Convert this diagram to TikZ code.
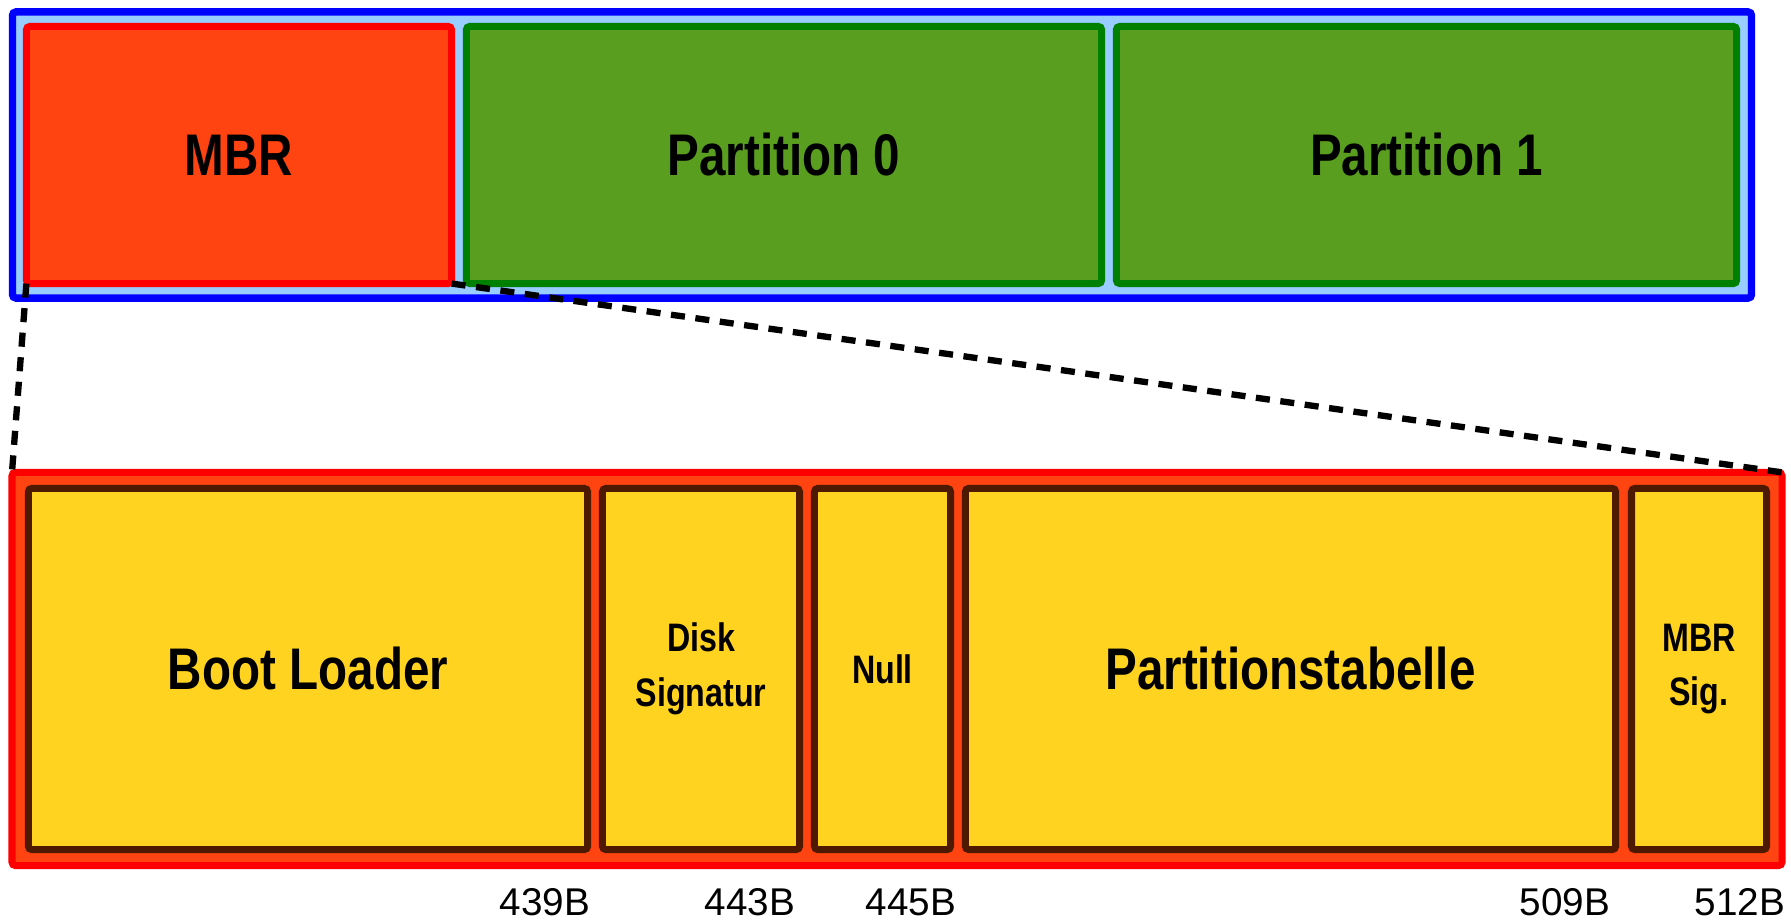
\documentclass[tikz,border=0pt]{standalone}
\usepackage{fontspec}
\setmainfont{Liberation Sans}
\newfontfamily\narrowfont[FakeStretch=0.81]{Liberation Sans}
\usepackage{xcolor}
\usepackage{tikz}
\usetikzlibrary{calc}

\definecolor{diskblue}{RGB}{0,0,255}
\definecolor{disklight}{RGB}{153,204,255}
\definecolor{mbrred}{RGB}{255,0,0}
\definecolor{mbrfill}{RGB}{255,68,17}
\definecolor{partline}{RGB}{0,128,0}
\definecolor{partfill}{RGB}{89,158,31}
\definecolor{fieldline}{RGB}{77,25,0}
\definecolor{fieldfill}{RGB}{255,211,32}

\tikzset{
	block/.style={rectangle, rounded corners=1pt, line width=2pt, outer sep=0pt,
		inner sep=0pt, align=center, text=black},
	bigtext/.style={font=\narrowfont\bfseries\fontsize{16.7}{20}\selectfont},
	smalltext/.style={font=\narrowfont\bfseries\fontsize{11.3}{15.6}\selectfont},
	partbox/.style={block, bigtext, draw=partline, fill=partfill, minimum height=2.57cm},
	fieldbox/.style={block, draw=fieldline, fill=fieldfill, minimum height=3.61cm},
	sizelabel/.style={inner sep=0pt, anchor=base east, font=\fontsize{11}{13}\selectfont},
	zoomline/.style={line width=1.8pt, dash pattern=on 4pt off 3pt}
}

\begin{document}
\begin{tikzpicture}[x=0.01cm, y=-0.01cm]
	\useasboundingbox (0,0) rectangle (1791,922);

	% Festplatte
	\node[block, draw=diskblue, fill=disklight, line width=2.1pt,
		minimum width=17.38cm, minimum height=2.86cm] (disk) at (882,155) {};
	\node[block, bigtext, draw=mbrred, fill=mbrfill,
		minimum width=4.25cm, minimum height=2.57cm] (mbr) at (239,155) {MBR};
	\node[partbox, minimum width=6.35cm] (part0) at (784,155) {Partition 0};
	\node[partbox, minimum width=6.20cm] (part1) at (1426.5,155) {Partition 1};

	% MBR im Detail
	\node[block, draw=mbrred, fill=mbrfill,
		minimum width=17.69cm, minimum height=3.93cm] (sector) at (897,669) {};
	\node[fieldbox, bigtext, minimum width=5.59cm] (boot) at (308,669) {Boot Loader};
	\node[fieldbox, smalltext, minimum width=1.97cm] (disksig) at (701,669) {Disk\\Signatur};
	\node[fieldbox, smalltext, minimum width=1.36cm] (null) at (882.5,669) {Null};
	\node[fieldbox, bigtext, minimum width=6.50cm] (ptable) at (1290.5,669) {Partitionstabelle};
	\node[fieldbox, smalltext, minimum width=1.35cm] (mbrsig) at (1699,669) {MBR\\Sig.};

	% Groessen
	\node[sizelabel] (l439) at (591,915) {439B};
	\node[sizelabel] (l443) at (796,915) {443B};
	\node[sizelabel] (l445) at (957,915) {445B};
	\node[sizelabel] (l509) at (1611,915) {509B};
	\node[sizelabel] (l512) at (1786,915) {512B};

	% Zoom
	\draw[zoomline] (mbr.south west) -- (sector.north west);
	\draw[zoomline] (mbr.south east) -- (sector.north east);
\end{tikzpicture}
\end{document}
